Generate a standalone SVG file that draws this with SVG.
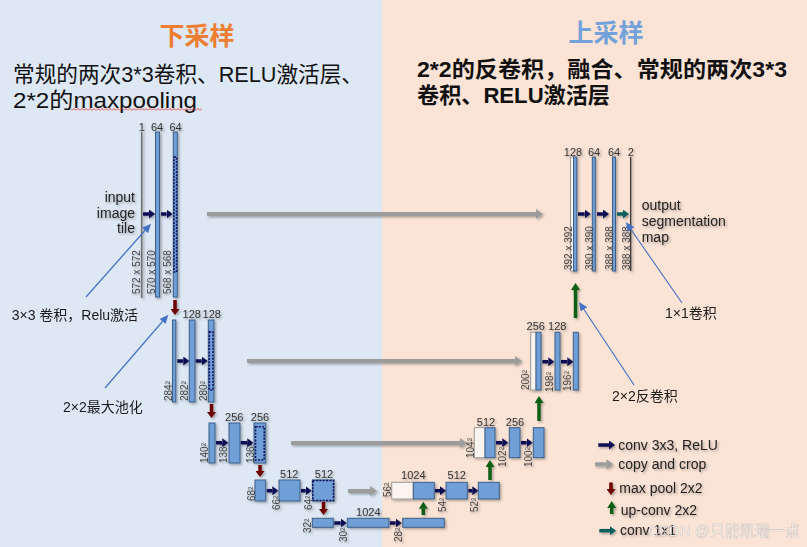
<svg xmlns="http://www.w3.org/2000/svg" width="807" height="547" viewBox="0 0 807 547">
<style>
.bar{fill:#6f9fd8;stroke:#3d5f87;stroke-width:1}
.wbar{fill:#fbf4ef;stroke:#9a9a9a;stroke-width:1}
.dot{fill:none;stroke:#14145e;stroke-width:1.6;stroke-dasharray:2 1.3}
.lbl{font-family:"Liberation Sans",Arial,sans-serif;font-size:11px;fill:#333;text-anchor:middle}
.rl{font-family:"Liberation Sans",Arial,sans-serif;font-size:10px;fill:#444}
.txt{font-family:"Liberation Sans","Noto Sans CJK SC",sans-serif;font-size:14px;fill:#222}
.ann{font-family:"Liberation Sans","Noto Sans CJK SC",sans-serif;font-size:14px;fill:#1a1a1a}
.conv{stroke:#0b0b52;stroke-width:3.5;marker-end:url(#hConv)}
.c11{stroke:#0d5e5e;stroke-width:3.5;marker-end:url(#hC11)}
.copy{stroke:#9c9c9c;stroke-width:4;marker-end:url(#hCopy)}
.pool{stroke:#6e0606;stroke-width:3.5;marker-end:url(#hPool)}
.up{stroke:#0c5e12;stroke-width:3.5;marker-end:url(#hUp)}
.al{stroke:#4472c4;stroke-width:1.2;fill:none;marker-end:url(#hAnn)}
</style>
<defs>
<filter id="sh" x="-20%" y="-20%" width="140%" height="140%">
<feDropShadow dx="1.5" dy="1.5" stdDeviation="1.2" flood-color="#000" flood-opacity="0.3"/>
</filter>
<marker id="hConv" viewBox="0 0 6 9" refX="0" refY="4.5" markerWidth="6" markerHeight="9" orient="auto" markerUnits="userSpaceOnUse"><path d="M0,0 L6,4.5 L0,9 Z" fill="#0b0b52"/></marker>
<marker id="hC11" viewBox="0 0 6 9" refX="0" refY="4.5" markerWidth="6" markerHeight="9" orient="auto" markerUnits="userSpaceOnUse"><path d="M0,0 L6,4.5 L0,9 Z" fill="#0d5e5e"/></marker>
<marker id="hCopy" viewBox="0 0 7 10" refX="0" refY="5" markerWidth="7" markerHeight="10" orient="auto" markerUnits="userSpaceOnUse"><path d="M0,0 L7,5 L0,10 Z" fill="#9c9c9c"/></marker>
<marker id="hPool" viewBox="0 0 6 9" refX="0" refY="4.5" markerWidth="6" markerHeight="9" orient="auto" markerUnits="userSpaceOnUse"><path d="M0,0 L6,4.5 L0,9 Z" fill="#6e0606"/></marker>
<marker id="hUp" viewBox="0 0 7 9" refX="0" refY="4.5" markerWidth="7" markerHeight="9" orient="auto" markerUnits="userSpaceOnUse"><path d="M0,0 L7,4.5 L0,9 Z" fill="#0c5e12"/></marker>
<marker id="hAnn" viewBox="0 0 9 8" refX="0" refY="4" markerWidth="9" markerHeight="8" orient="auto" markerUnits="userSpaceOnUse"><path d="M0,0 L9,4 L0,8 Z" fill="#4472c4"/></marker>
<pattern id="squig" width="4" height="3" patternUnits="userSpaceOnUse"><path d="M0,2.5 L2,0.5 L4,2.5" fill="none" stroke="#e02020" stroke-width="0.8"/></pattern>
</defs>

<rect x="0" y="0" width="382" height="547" fill="#dde8f4"/>
<rect x="382" y="0" width="425" height="547" fill="#fbe4d6"/>

<g id="titles">
<text x="197" y="45" font-family="'Noto Sans CJK SC',sans-serif" font-size="25" font-weight="bold" fill="#ed7d31" text-anchor="middle">下采样</text>
<text x="606" y="42" font-family="'Noto Sans CJK SC',sans-serif" font-size="25" font-weight="bold" fill="#72a2d9" text-anchor="middle">上采样</text>
<text x="13" y="81.5" font-family="'Liberation Sans','Noto Sans CJK SC',sans-serif" font-size="22" fill="#111" textLength="350" lengthAdjust="spacingAndGlyphs">常规的两次3*3卷积、RELU激活层、</text>
<text x="13" y="108" font-family="'Liberation Sans','Noto Sans CJK SC',sans-serif" font-size="22" fill="#111" textLength="184" lengthAdjust="spacingAndGlyphs">2*2的maxpooling</text>
<rect x="71" y="108" width="131" height="3" fill="url(#squig)"/>
<text x="417" y="76.5" font-family="'Liberation Sans','Noto Sans CJK SC',sans-serif" font-size="22" font-weight="bold" fill="#111" textLength="370" lengthAdjust="spacingAndGlyphs">2*2的反卷积，融合、常规的两次3*3</text>
<text x="417" y="103" font-family="'Liberation Sans','Noto Sans CJK SC',sans-serif" font-size="22" font-weight="bold" fill="#111" textLength="193" lengthAdjust="spacingAndGlyphs">卷积、RELU激活层</text>
</g>

<g id="unet" filter="url(#sh)">
<g id="level1-left">
<line x1="141.7" y1="132" x2="141.7" y2="298" stroke="#707070" stroke-width="1.6"/>
<rect class="bar" x="155.5" y="132" width="4" height="165"/>
<rect class="bar" x="173.3" y="132" width="4" height="165"/>
<rect class="dot" x="174" y="157" width="2.6" height="115"/>
<text class="lbl" x="141.7" y="131">1</text>
<text class="lbl" x="157" y="131">64</text>
<text class="lbl" x="175.5" y="131">64</text>
<text class="rl" transform="translate(140.2,294) rotate(-90)">572 x 572</text>
<text class="rl" transform="translate(155.2,294) rotate(-90)">570 x 570</text>
<text class="rl" transform="translate(170.5,294) rotate(-90)">568 x 568</text>
<text class="txt" x="135" y="201.5" text-anchor="end">input</text>
<text class="txt" x="135" y="217.5" text-anchor="end">image</text>
<text class="txt" x="135" y="233" text-anchor="end">tile</text>
</g>
<g id="level1-right">
<rect class="wbar" x="570.5" y="157" width="3" height="114"/>
<rect class="bar" x="573.5" y="157" width="3.3" height="114"/>
<rect class="bar" x="592.3" y="157" width="3" height="114"/>
<rect class="bar" x="612.5" y="157" width="3" height="114"/>
<line x1="630.7" y1="157" x2="630.7" y2="271" stroke="#333" stroke-width="1.3"/>
<text class="lbl" x="573" y="156">128</text>
<text class="lbl" x="594" y="156">64</text>
<text class="lbl" x="614" y="156">64</text>
<text class="lbl" x="630.7" y="156">2</text>
<text class="rl" transform="translate(571.5,270) rotate(-90)">392 x 392</text>
<text class="rl" transform="translate(592.5,270) rotate(-90)">390 x 390</text>
<text class="rl" transform="translate(612.5,270) rotate(-90)">388 x 388</text>
<text class="rl" transform="translate(629.5,270) rotate(-90)">388 x 388</text>
<text class="txt" x="641.7" y="210">output</text>
<text class="txt" x="641.7" y="226">segmentation</text>
<text class="txt" x="641.7" y="241.5">map</text>
</g>
<g id="level2-left">
<rect class="bar" x="172.5" y="320" width="3.3" height="82"/>
<rect class="bar" x="189.3" y="320" width="5.7" height="82"/>
<rect class="bar" x="208.3" y="320" width="5.7" height="82"/>
<rect class="dot" x="209.3" y="331.7" width="3.7" height="58.3"/>
<text class="lbl" x="191.7" y="317.5">128</text>
<text class="lbl" x="211.7" y="317.5">128</text>
<text class="rl" transform="translate(171.8,401) rotate(-90)">284²</text>
<text class="rl" transform="translate(187.5,401) rotate(-90)">282²</text>
<text class="rl" transform="translate(206.8,401) rotate(-90)">280²</text>
</g>
<g id="level2-right">
<rect class="wbar" x="530.7" y="332.3" width="5.3" height="57.7"/>
<rect class="bar" x="536" y="332.3" width="5" height="57.7"/>
<rect class="bar" x="555" y="332.3" width="5" height="57.7"/>
<rect class="bar" x="573.3" y="332.3" width="5" height="57.7"/>
<text class="lbl" x="535.7" y="330">256</text>
<text class="lbl" x="557.3" y="330">128</text>
<text class="rl" transform="translate(528.5,390) rotate(-90)">200²</text>
<text class="rl" transform="translate(552.8,392) rotate(-90)">198²</text>
<text class="rl" transform="translate(570.8,391) rotate(-90)">196²</text>
</g>
<g id="level3-left">
<rect class="bar" x="209" y="423" width="6" height="40"/>
<rect class="bar" x="229" y="423" width="11" height="40"/>
<rect class="bar" x="254" y="423" width="11.7" height="40"/>
<rect class="dot" x="255.5" y="426.7" width="8.7" height="33.3"/>
<text class="lbl" x="234.3" y="420.7">256</text>
<text class="lbl" x="260" y="420.7">256</text>
<text class="rl" transform="translate(207.5,463) rotate(-90)">140²</text>
<text class="rl" transform="translate(226.8,463) rotate(-90)">138²</text>
<text class="rl" transform="translate(253.5,463) rotate(-90)">136²</text>
</g>
<g id="level3-right">
<rect class="wbar" x="474.3" y="427.7" width="10.7" height="30"/>
<rect class="bar" x="485" y="427.7" width="10" height="30"/>
<rect class="bar" x="509.3" y="427.7" width="10.7" height="30"/>
<rect class="bar" x="533.3" y="427.7" width="10.7" height="30"/>
<text class="lbl" x="486" y="425.7">512</text>
<text class="lbl" x="515" y="425.7">256</text>
<text class="rl" transform="translate(473.5,458) rotate(-90)">104²</text>
<text class="rl" transform="translate(506.2,467) rotate(-90)">102²</text>
<text class="rl" transform="translate(531.8,467) rotate(-90)">100²</text>
</g>
<g id="level4-left">
<rect class="bar" x="255" y="480" width="10.7" height="21"/>
<rect class="bar" x="279" y="480" width="21" height="21"/>
<rect class="bar" x="312.3" y="480" width="21.7" height="21"/>
<rect class="dot" x="312.8" y="480.5" width="20.7" height="20"/>
<text class="lbl" x="289.3" y="478.3">512</text>
<text class="lbl" x="324" y="478.3">512</text>
<text class="rl" transform="translate(255.2,501) rotate(-90)">68²</text>
<text class="rl" transform="translate(279.5,510) rotate(-90)">66²</text>
<text class="rl" transform="translate(311.8,510) rotate(-90)">64²</text>
</g>
<g id="level4-right">
<rect class="wbar" x="391.7" y="482.3" width="21.6" height="16.7"/>
<rect class="bar" x="413.3" y="482.3" width="21" height="16.7"/>
<rect class="bar" x="446" y="482.3" width="21.3" height="16.7"/>
<rect class="bar" x="478.3" y="482.3" width="21" height="16.7"/>
<text class="lbl" x="413.3" y="479.3">1024</text>
<text class="lbl" x="456.7" y="479.3">512</text>
<text class="rl" transform="translate(390.8,497) rotate(-90)">56²</text>
<text class="rl" transform="translate(446.2,512) rotate(-90)">54²</text>
<text class="rl" transform="translate(477.8,512) rotate(-90)">52²</text>
</g>
<g id="level5">
<rect class="bar" x="312.3" y="518.3" width="21" height="9"/>
<rect class="bar" x="347.3" y="518.3" width="41.7" height="9"/>
<rect class="bar" x="402.7" y="518.3" width="41.6" height="9"/>
<text class="lbl" x="368.3" y="515.7">1024</text>
<text class="rl" transform="translate(310.8,533) rotate(-90)">32²</text>
<text class="rl" transform="translate(346.8,542) rotate(-90)">30²</text>
<text class="rl" transform="translate(401.8,542) rotate(-90)">28²</text>
</g>

<g id="connectors">
<line class="copy" x1="207" y1="214" x2="536" y2="214"/>
<line class="copy" x1="247" y1="361" x2="515" y2="361"/>
<line class="copy" x1="291" y1="443" x2="460" y2="443"/>
<line class="copy" x1="348" y1="491" x2="370" y2="491"/>
<line class="conv" x1="143" y1="214" x2="149" y2="214"/>
<line class="conv" x1="161" y1="214" x2="166.6" y2="214"/>
<line class="conv" x1="578" y1="214" x2="584.7" y2="214"/>
<line class="conv" x1="597" y1="214" x2="603" y2="214"/>
<line class="c11" x1="617" y1="214" x2="623" y2="214"/>
<line class="conv" x1="177.3" y1="361" x2="183.3" y2="361"/>
<line class="conv" x1="195.7" y1="361" x2="201.7" y2="361"/>
<line class="conv" x1="542.3" y1="361.7" x2="548.3" y2="361.7"/>
<line class="conv" x1="561" y1="361.7" x2="567.3" y2="361.7"/>
<line class="conv" x1="216" y1="442.7" x2="222.3" y2="442.7"/>
<line class="conv" x1="240.7" y1="442.7" x2="247.3" y2="442.7"/>
<line class="conv" x1="496" y1="442.7" x2="502.3" y2="442.7"/>
<line class="conv" x1="521" y1="442.7" x2="526.7" y2="442.7"/>
<line class="conv" x1="266.7" y1="490.7" x2="272.3" y2="490.7"/>
<line class="conv" x1="301" y1="490.7" x2="305.7" y2="490.7"/>
<line class="conv" x1="435" y1="490.7" x2="440" y2="490.7"/>
<line class="conv" x1="468.3" y1="490.7" x2="472.3" y2="490.7"/>
<line class="conv" x1="334.3" y1="523" x2="340.7" y2="523"/>
<line class="conv" x1="390" y1="523" x2="395.7" y2="523"/>
<line class="pool" x1="175" y1="300" x2="175" y2="309"/>
<line class="pool" x1="211.5" y1="404" x2="211.5" y2="412"/>
<line class="pool" x1="260" y1="465" x2="260" y2="471"/>
<line class="pool" x1="323.5" y1="502" x2="323.5" y2="509"/>
<line class="up" x1="575.5" y1="318" x2="575.5" y2="290"/>
<line class="up" x1="539" y1="421" x2="539" y2="403"/>
<line class="up" x1="490" y1="480" x2="490" y2="467"/>
<line class="up" x1="423.3" y1="515" x2="423.3" y2="508.7"/>
</g>

<g id="legend">
<line class="conv" x1="598.3" y1="445" x2="609" y2="445"/>
<text class="txt" x="618.3" y="449.5">conv 3x3, ReLU</text>
<line class="copy" x1="595" y1="464.3" x2="606.3" y2="464.3"/>
<text class="txt" x="618.3" y="469">copy and crop</text>
<line class="pool" x1="611" y1="482.5" x2="611" y2="489"/>
<text class="txt" x="619.3" y="493">max pool 2x2</text>
<line class="up" x1="611.7" y1="514" x2="611.7" y2="508"/>
<text class="txt" x="620.7" y="514.5">up-conv 2x2</text>
<line class="c11" x1="599.3" y1="530.7" x2="610" y2="530.7"/>
<text class="txt" x="620" y="534.5">conv 1x1</text>
</g>
</g>

<g id="annotations">
<line class="al" x1="86" y1="297" x2="145" y2="230.5"/>
<text class="ann" x="11.7" y="320">3×3 卷积，Relu激活</text>
<line class="al" x1="105" y1="388" x2="162.5" y2="321.5"/>
<text class="ann" x="63" y="411.5">2×2最大池化</text>
<line class="al" x1="682" y1="303" x2="631" y2="229.5"/>
<text class="ann" x="665" y="318">1×1卷积</text>
<line class="al" x1="634" y1="385" x2="584" y2="309.5"/>
<text class="ann" x="612" y="401">2×2反卷积</text>
</g>

<text x="648" y="536" font-family="'Liberation Sans','Noto Sans CJK SC',sans-serif" font-size="15" fill="#ffffff" fill-opacity="0.75" stroke="#9a9a9a" stroke-width="0.4" stroke-opacity="0.6">CSDN @只能凯瑞一点</text>
</svg>
